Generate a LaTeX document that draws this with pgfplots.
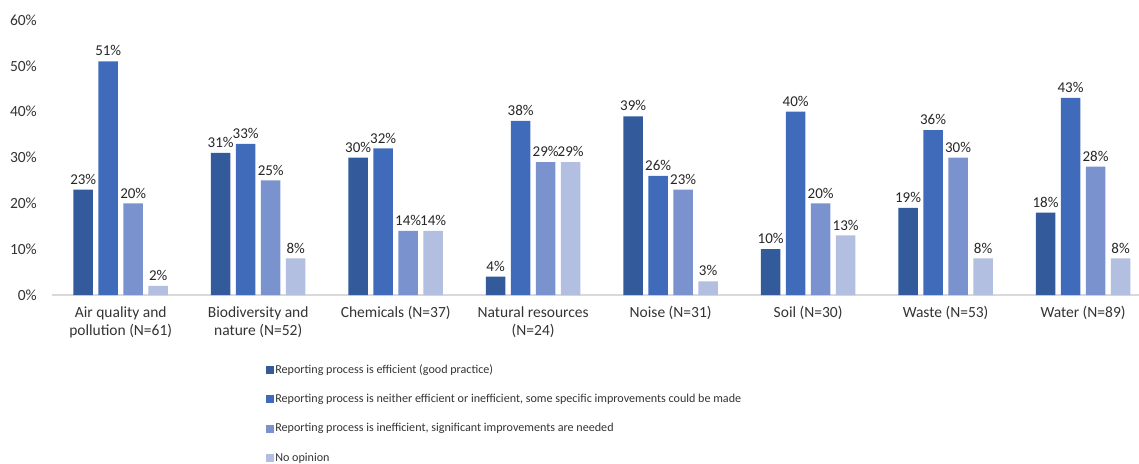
\documentclass[border=0pt]{standalone}
\usepackage{fontspec}
\setmainfont{Carlito}
\usepackage{pgfplots}
\pgfplotsset{compat=1.18}

\definecolor{cA}{HTML}{335A9B}
\definecolor{cB}{HTML}{3F6BBA}
\definecolor{cC}{HTML}{7A93CF}
\definecolor{cD}{HTML}{B3BFE0}
\definecolor{txt}{HTML}{333333}
\definecolor{axl}{HTML}{D9D9D9}

\begin{document}
\begin{tikzpicture}
\begin{axis}[
    scale only axis,
    width=1087pt, height=275pt,
    ybar=5.5pt, bar width=19.5pt,
    xmin=-0.5, xmax=7.407, ymin=0, ymax=60,
    enlargelimits=false,
    axis x line*=bottom, axis y line*=left,
    y axis line style={draw=none},
    x axis line style={draw=axl, line width=1.5pt},
    major tick length=0pt,
    xtick=data,
    xticklabels={{Air quality and\\pollution (N=61)},{Biodiversity and\\nature (N=52)},{Chemicals (N=37)},{Natural resources\\(N=24)},{Noise (N=31)},{Soil (N=30)},{Waste (N=53)},{Water (N=89)}},
    xticklabel style={align=center, font=\fontsize{15.5}{18.5}\selectfont, text=txt, anchor=north, yshift=-8pt},
    ytick={0,10,...,60},
    yticklabel={\pgfmathprintnumber{\tick}\%},
    yticklabel style={font=\fontsize{15.5}{18}\selectfont, text=txt, inner sep=0pt, xshift=-15pt},
    /pgf/number format/assume math mode=true,
    point meta=y,
    nodes near coords={\pgfmathprintnumber[fixed,precision=0]{\pgfplotspointmeta}\%},
    every node near coord/.append style={font=\fontsize{15}{18}\selectfont, text=black!85, inner sep=2pt, yshift=3pt},
    legend style={at={(0.191,0)}, anchor=north west, xshift=3pt, yshift=-66pt, draw=none, fill=none,
        font=\fontsize{12.1}{13}\selectfont, text=txt, row sep=16.3pt,
        nodes={inner sep=1.5pt}},
    legend cell align=left,
    legend image code/.code={\fill[#1] (0pt,-4pt) rectangle (8pt,4pt);},
]
\addplot[fill=cA, draw=none] coordinates {(0,23) (1,31) (2,30) (3,4) (4,39) (5,10) (6,19) (7,18)};
\addplot[fill=cB, draw=none] coordinates {(0,51) (1,33) (2,32) (3,38) (4,26) (5,40) (6,36) (7,43)};
\addplot[fill=cC, draw=none] coordinates {(0,20) (1,25) (2,14) (3,29) (4,23) (5,20) (6,30) (7,28)};
\addplot[fill=cD, draw=none] coordinates {(0,2) (1,8) (2,14) (3,29) (4,3) (5,13) (6,8) (7,8)};
\legend{{Reporting process is efficient (good practice)},
{Reporting process is neither efficient or inefficient, some specific improvements could be made},
{Reporting process is inefficient, significant improvements are needed},
{No opinion}}
\end{axis}
\pgfresetboundingbox
\path ([xshift=-52pt,yshift=-168pt]current axis.south west) rectangle ([yshift=20pt]current axis.north east);
\end{tikzpicture}
\end{document}
